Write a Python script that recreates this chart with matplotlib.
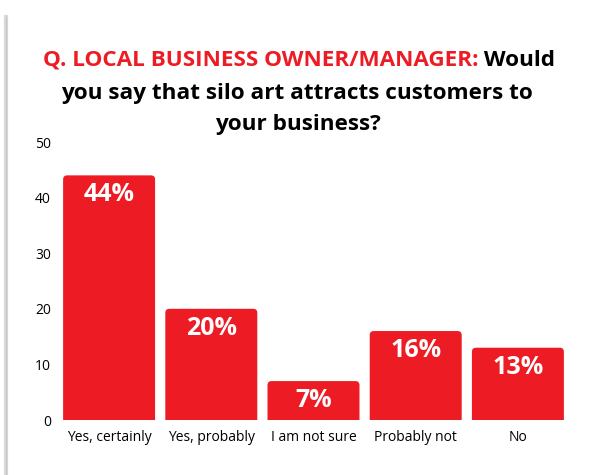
import matplotlib.pyplot as plt
from matplotlib.patches import FancyBboxPatch
from matplotlib.lines import Line2D

categories = ["Yes, certainly", "Yes, probably", "I am not sure", "Probably not", "No"]
values = [44, 20, 7, 16, 13]
labels = ["44%", "20%", "7%", "16%", "13%"]
yticks = [0, 10, 20, 30, 40, 50]

red = "#ED1C24"
plt.rcParams['font.family'] = ['Open Sans', 'DejaVu Sans']

fig = plt.figure(figsize=(5.92, 4.75), dpi=100)
ax = fig.add_axes([58 / 592, 55 / 475, 511 / 592, 278 / 475])

# card shadow on the left
fig.add_artist(Line2D([6 / 592, 6 / 592], [0, 458 / 475], transform=fig.transFigure,
                      color="#dadada", lw=3))
fig.add_artist(Line2D([6 / 592, 6 / 592], [0, 458 / 475], transform=fig.transFigure,
                      color="#c8c8c8", lw=1))

ax.set_xlim(-0.5, len(categories) - 0.5)
ax.set_ylim(0, 50)

# x units per px / y units per px
aspect = (50 / 278) / (5 / 511)
w = 0.9
for i, v in enumerate(values):
    box = FancyBboxPatch((i - w / 2, -2), w, v + 2,
                         boxstyle="round,pad=0,rounding_size=0.04",
                         mutation_aspect=aspect, fc=red, ec="none")
    ax.add_patch(box)
    ax.annotate(labels[i], (i, v), xytext=(0, -5), textcoords="offset points",
                ha="center", va="top", color="white", fontsize=18, fontweight="bold")

ax.set_xticks(range(len(categories)))
ax.set_xticklabels(categories, fontsize=10)
ax.set_yticks(yticks)
ax.tick_params(axis="y", labelsize=10, length=0, pad=5)
ax.tick_params(axis="x", length=0, pad=7)
for s in ax.spines.values():
    s.set_visible(False)

# title with red lead-in
fig.canvas.draw()
r = fig.canvas.get_renderer()
tsize = 16.2
y1 = 1 - 60 / 475
t_red = fig.text(0, y1, "Q. LOCAL BUSINESS OWNER/MANAGER:", color=red,
                 fontsize=tsize, fontweight="bold", va="center")
t_blk = fig.text(0, y1, " Would", color="black", fontsize=tsize, fontweight="bold", va="center")
wr = t_red.get_window_extent(r).width
wb = t_blk.get_window_extent(r).width
x0 = (299 - (wr + wb) / 2) / 592
t_red.set_x(x0)
t_blk.set_x(x0 + wr / 592)
fig.text(297 / 592, 1 - 94 / 475, "you say that silo art attracts customers to",
         ha="center", va="center", fontsize=tsize, fontweight="bold")
fig.text(298 / 592, 1 - 125 / 475, "your business?",
         ha="center", va="center", fontsize=tsize, fontweight="bold")

fig.savefig("out.png", dpi=100)
